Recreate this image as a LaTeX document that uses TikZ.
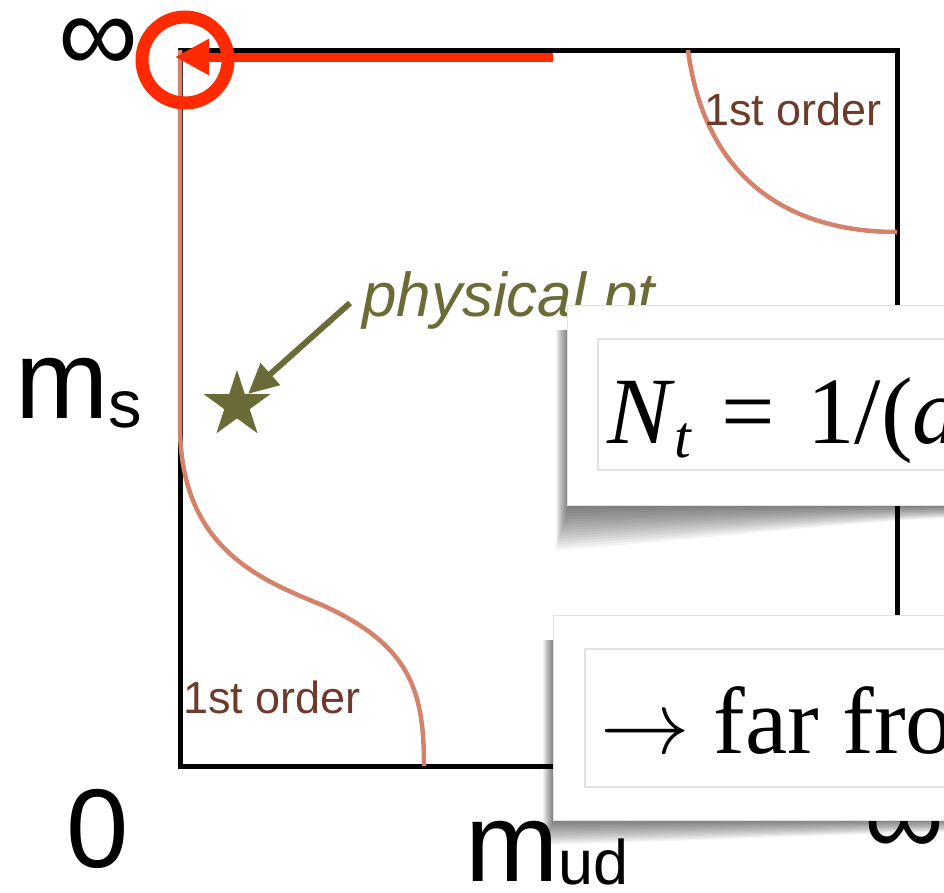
\documentclass[tikz,border=0pt]{standalone}
\usepackage{fontspec}
\setmainfont{Liberation Serif}
\setsansfont{Liberation Sans}
\newfontfamily\lsans{Liberation Sans}
\usetikzlibrary{arrows.meta,shapes.geometric}
\definecolor{salmonx}{HTML}{D3826B}
\definecolor{redx}{HTML}{FF2A00}
\definecolor{olivex}{HTML}{6B6B38}
\definecolor{brownx}{HTML}{6E3B2A}
\definecolor{edgex}{HTML}{E2E2E2}
\begin{document}
\begin{tikzpicture}[x=1pt,y=-1pt,
  axlabel/.style={inner sep=0pt, font=\lsans\fontsize{112}{112}\selectfont},
  ordlabel/.style={inner sep=0pt, text=brownx, font=\lsans\fontsize{45}{45}\selectfont},
  frame/.style={line width=5pt, black},
  curve/.style={line width=4.5pt, salmonx},
  outerbox/.style={fill=white, draw=edgex, line width=1pt},
  innerbox/.style={fill=white, draw=edgex, line width=1.5pt},
  boxtext/.style={inner sep=0pt, font=\fontsize{95}{95}\selectfont},
  shadowlayer/.style={fill=black, opacity=0.045}
]
\useasboundingbox (0,0) rectangle (944,892);
\clip (0,0) rectangle (944,892);

% frame
\coordinate (tl) at (180,50);
\coordinate (tr) at (897,50);
\coordinate (br) at (897,766);
\coordinate (bl) at (180,766);
\draw[frame] (tl) -- (tr) -- (br) -- (bl) -- cycle;

% first order curves
\coordinate (c1a) at (180,50);
\coordinate (c1b) at (180,425);
\coordinate (c1c) at (322,605);
\coordinate (c1d) at (424,766);
\draw[curve] (c1a) -- (c1b) .. controls (180,545) and (255,578) .. (c1c)
  .. controls (410,645) and (424,690) .. (c1d);
\coordinate (c2a) at (688,50);
\coordinate (c2b) at (897,232);
\draw[curve] (c2a) .. controls (705,180) and (790,232) .. (c2b);

% red arrow and ring
\coordinate (ra) at (553,57);
\coordinate (rb) at (175,57);
\draw[redx, line width=9pt, -{Triangle[length=34pt,width=34pt]}] (ra) -- (rb);
\node[circle, draw=redx, line width=13pt, minimum size=86pt, inner sep=0pt] (ring) at (185,60) {};

% axis labels
\node[axlabel, anchor=center] (inftop) at (98,46) {∞};
\node[axlabel, anchor=base west] (ms) at (15,418) {m\raisebox{-9pt}{\fontsize{67}{67}\selectfont s}};
\node[axlabel, anchor=base west] (zero) at (66,867) {0};
\node[axlabel, anchor=base west] (mud) at (465,881) {m\raisebox{-3pt}{\fontsize{63}{63}\selectfont ud}};
\node[axlabel, anchor=center] (infbot) at (904,829) {∞};

% order labels
\node[ordlabel, anchor=base west] (ord1) at (704,125) {1st order};
\node[ordlabel, anchor=base west] (ord2) at (183,713) {1st order};

% physical point
\node[star, star points=5, star point ratio=2.618, fill=olivex, minimum size=70pt, inner sep=0pt] (phys) at (237,405) {};
\node[inner sep=0pt, anchor=base west, text=olivex, font=\lsans\itshape\fontsize{62}{62}\selectfont] (physlab) at (362,316) {physical pt};
\coordinate (pa) at (350,303);
\draw[olivex, line width=6pt, -{Triangle[length=30pt,width=28pt]}] (pa) -- (phys.north east);

% box 1 with shadow
\foreach \k in {0,...,15} {
  \fill[shadowlayer] (556+\k*0.8, 330) -- (556+\k*0.8, 550-\k*2.8)
    .. controls (680, 542-\k*2.4) and (820, 524-\k*1.2) .. (944, 518-\k*0.8)
    -- (944,330) -- cycle;
}
\draw[outerbox] (567,305) rectangle (960,505);
\draw[innerbox] (598,339) rectangle (960,470);
\node[boxtext, anchor=base west] (nt) at (607,443)
  {\itshape N\/\raisebox{-14pt}{\fontsize{60}{60}\selectfont t}\upshape\hspace{30pt}=\hspace{32pt}1/(\itshape a};

% box 2 with shadow
\foreach \k in {0,...,15} {
  \fill[shadowlayer] (543+\k*0.7, 640) -- (543+\k*0.7, 845-\k*1.6)
    .. controls (680, 841-\k*1.4) and (820, 835-\k*1.0) .. (944, 832-\k*0.8)
    -- (944,640) -- cycle;
}
\draw[outerbox] (553,615) rectangle (960,820);
\draw[innerbox] (585,649) rectangle (960,787);
\node[boxtext, anchor=base west] (far) at (600,753) {\scalebox{3.6}{$\rightarrow$} far fro};
\end{tikzpicture}
\end{document}
